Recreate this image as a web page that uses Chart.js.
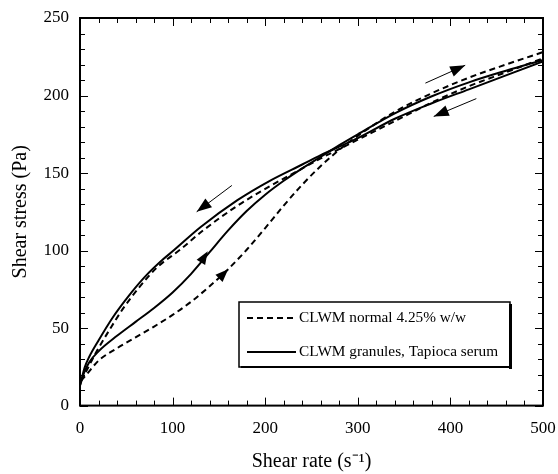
<!DOCTYPE html>
<html><head><meta charset="utf-8">
<script src="https://cdn.jsdelivr.net/npm/chart.js@4.4.1/dist/chart.umd.min.js"></script>
<style>html,body{margin:0;padding:0;background:#fff}#wrap{width:558px;height:474px}</style>
</head><body><div id="wrap"><canvas id="c" width="558" height="474"></canvas></div>
<script>
// ---- data ----
const xTicks = [0, 100, 200, 300, 400, 500];
const yTicks = [0, 50, 100, 150, 200, 250];
const seriesNames = ["CLWM normal 4.25% w/w", "CLWM granules, Tapioca serum"];

// dashed, increasing shear rate
const dUpX = [1, 7, 20, 40, 60, 80, 100, 120, 140, 160, 180, 200, 220, 240, 260, 280, 300, 340, 380, 420, 460, 500];
const dUpY = [16, 20, 29, 37, 44, 51, 58.5, 67, 77, 88, 100.5, 114.5, 129, 142.5, 154.5, 165, 174, 189.5, 201.5, 211.5, 220, 228];
// dashed, decreasing shear rate
const dDownX = [1, 7, 18, 32, 47, 65, 83, 108, 133, 169, 205, 234, 260, 280, 300, 340, 380, 420, 460, 500];
const dDownY = [16, 22.5, 35, 49, 63, 77, 89, 100.5, 113, 128.5, 141.5, 151, 159.5, 165.5, 171.5, 183.5, 195.5, 206, 215, 224];
// solid, increasing shear rate
const sUpX = [0, 5, 10, 20, 40, 60, 80, 100, 120, 140, 160, 180, 200, 220, 240, 260, 280, 300, 340, 380, 420, 460, 500];
const sUpY = [13, 22, 28, 35, 45, 54, 63, 73, 85, 99, 113, 125.5, 136, 145, 153, 160.5, 168, 175, 188.5, 199.5, 208.5, 216, 223];
// solid, decreasing shear rate
const sDownX = [0, 5, 10, 20, 35, 55, 70, 90, 100, 130, 170, 205, 240, 260, 280, 300, 340, 380, 420, 460, 500];
const sDownY = [13, 24.5, 31.5, 42, 56.5, 72.5, 83, 94.5, 99.5, 115, 132.5, 145, 155.5, 161.5, 167, 172.5, 185, 195, 204, 213, 222];

// free direction arrows: [x0, y0, x1(tip), y1(tip)] in data units
const freeArrows = [[164, 142, 126, 125], [373, 208, 416, 219.5], [428, 198, 382, 186.5]];
// arrowheads sitting on the up curves: [xFrom, yFrom, xTip, yTip]
const curveArrows = [[128, 90, 138, 99.5], [150, 82, 160, 88]];

const pts = (xs, ys) => xs.map((v, i) => ({x: v, y: ys[i]}));
const FONT = "'Liberation Serif', 'Times New Roman', serif";

const ds = (label, xs, ys, dash) => ({
  label, data: pts(xs, ys), showLine: true, borderColor: '#000', borderWidth: 2,
  borderDash: dash, pointRadius: 0, fill: false, cubicInterpolationMode: 'monotone'
});

function arrowHead(ctx, x0, y0, x1, y1, len, hw) {
  const a = Math.atan2(y1 - y0, x1 - x0), c = Math.cos(a), s = Math.sin(a);
  ctx.beginPath();
  ctx.moveTo(x1, y1);
  ctx.lineTo(x1 - len * c + hw * s, y1 - len * s - hw * c);
  ctx.lineTo(x1 - len * c - hw * s, y1 - len * s + hw * c);
  ctx.closePath();
  ctx.fill();
}

const decor = {
  id: 'decor',
  afterDatasetsDraw(chart) {
    const {ctx, chartArea: a, scales: {x, y}} = chart;
    ctx.save();
    ctx.fillStyle = '#000'; ctx.strokeStyle = '#000';
    // free arrows
    freeArrows.forEach(([x0, y0, x1, y1]) => {
      const p0 = [x.getPixelForValue(x0), y.getPixelForValue(y0)];
      const p1 = [x.getPixelForValue(x1), y.getPixelForValue(y1)];
      ctx.lineWidth = 1;
      ctx.beginPath(); ctx.moveTo(p0[0], p0[1]); ctx.lineTo(p1[0], p1[1]); ctx.stroke();
      arrowHead(ctx, p0[0], p0[1], p1[0], p1[1], 15, 5.5);
    });
    curveArrows.forEach(([x0, y0, x1, y1]) => {
      arrowHead(ctx, x.getPixelForValue(x0), y.getPixelForValue(y0),
        x.getPixelForValue(x1), y.getPixelForValue(y1), 13, 5);
    });
    // tick marks (inward, all four sides)
    ctx.lineWidth = 1;
    const seg = (ax, ay, bx, by) => { ctx.beginPath(); ctx.moveTo(ax, ay); ctx.lineTo(bx, by); ctx.stroke(); };
    for (let v = 0; v <= 500; v += 20) {
      const px = Math.round(x.getPixelForValue(v)) + 0.5;
      const L = v % 100 === 0 ? 8 : 5;
      seg(px, a.bottom, px, a.bottom - L);
      seg(px, a.top, px, a.top + L);
    }
    for (let v = 0; v <= 250; v += 10) {
      const py = Math.round(y.getPixelForValue(v)) + 0.5;
      const L = v % 50 === 0 ? 8 : 5;
      seg(a.left, py, a.left + L, py);
      seg(a.right, py, a.right - L, py);
    }
    ctx.lineWidth = 2;
    ctx.strokeRect(a.left, a.top, a.right - a.left, a.bottom - a.top);
    // legend box
    const L0 = a.left + 159, T0 = a.top + 284, W = 271, H = 65;
    ctx.fillStyle = '#fff';
    ctx.fillRect(L0, T0, W, H);
    ctx.fillStyle = '#000';
    ctx.fillRect(L0 + W - 1, T0 + 2, 3, H);
    ctx.fillRect(L0 + 2, T0 + H - 1, W, 2);
    ctx.lineWidth = 1.5;
    ctx.strokeRect(L0, T0, W, H);
    const rows = [T0 + 16, T0 + 50];
    const dashes = [[6, 4], []];
    rows.forEach((ry, i) => {
      ctx.lineWidth = 2; ctx.setLineDash(dashes[i]);
      ctx.beginPath(); ctx.moveTo(L0 + 8, ry); ctx.lineTo(L0 + 57, ry); ctx.stroke();
      ctx.setLineDash([]);
      ctx.font = "15.3px " + FONT; ctx.textBaseline = 'middle'; ctx.textAlign = 'left';
      ctx.fillText(seriesNames[i], L0 + 60, ry);
    });
    ctx.restore();
  }
};

new Chart(document.getElementById('c'), {
  type: 'scatter',
  data: {
    datasets: [
      ds(seriesNames[0] + ' (up)', dUpX, dUpY, [6, 4]),
      ds(seriesNames[0] + ' (down)', dDownX, dDownY, [6, 4]),
      ds(seriesNames[1] + ' (up)', sUpX, sUpY, []),
      ds(seriesNames[1] + ' (down)', sDownX, sDownY, [])
    ]
  },
  options: {
    responsive: false, animation: false,
    layout: {padding: {top: 18, right: 15, left: 0, bottom: 0}},
    plugins: {legend: {display: false}, tooltip: {enabled: false}},
    scales: {
      x: {
        type: 'linear', min: xTicks[0], max: xTicks[xTicks.length - 1],
        afterFit: s => { s.height = 68.4; s.paddingLeft = 0; s.paddingRight = 0; },
        afterBuildTicks: s => { s.ticks = xTicks.map(v => ({value: v})); },
        grid: {display: false}, border: {display: false},
        ticks: {color: '#000', padding: 5, font: {family: FONT, size: 17}, maxRotation: 0},
        title: {display: true, text: 'Shear rate (s\u207B\u00B9)', color: '#000',
          font: {family: FONT, size: 20}, padding: {top: 0, bottom: 0}}
      },
      y: {
        type: 'linear', min: yTicks[0], max: yTicks[yTicks.length - 1],
        afterFit: s => { s.width = 80; s.paddingTop = 0; s.paddingBottom = 0; },
        afterBuildTicks: s => { s.ticks = yTicks.map(v => ({value: v})); },
        grid: {display: false}, border: {display: false},
        ticks: {color: '#000', padding: 3, font: {family: FONT, size: 17}},
        title: {display: true, text: 'Shear stress (Pa)', color: '#000',
          font: {family: FONT, size: 20}, padding: {top: 9, bottom: 0}}
      }
    }
  },
  plugins: [decor]
});
</script></body></html>
